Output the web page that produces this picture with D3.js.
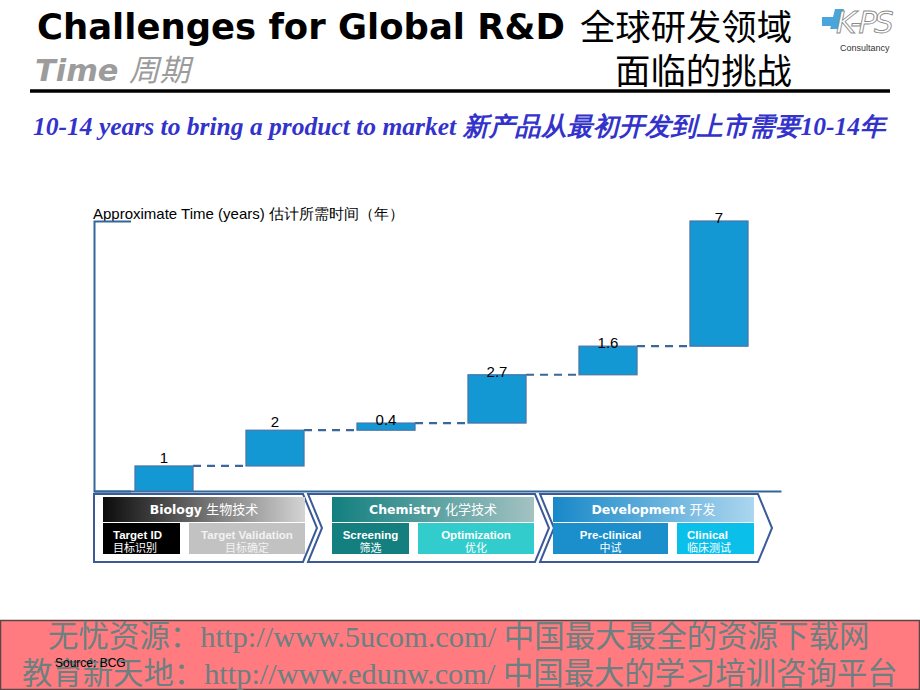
<!DOCTYPE html>
<html>
<head>
<meta charset="utf-8">
<script src="https://cdn.jsdelivr.net/npm/d3@7"></script>
<style>
  html, body { margin: 0; padding: 0; background: #fff; }
  svg { display: block; }
</style>
</head>
<body>
<svg id="chart" width="920" height="690"></svg>
<script>
// ---------------- DATA ----------------
const categories = ["Target ID", "Target Validation", "Screening", "Optimization", "Pre-clinical", "Clinical"];
const categoriesZh = ["目标识别", "目标确定", "筛选", "优化", "中试", "临床测试"];
const values = [1, 2, 0.4, 2.7, 1.6, 7];
const valueLabels = ["1", "2", "0.4", "2.7", "1.6", "7"];
const phases = ["Biology", "Chemistry", "Development"];
const phasesZh = ["生物技术", "化学技术", "开发"];
const titleEn = "Challenges for Global R&D";
const titleZh1 = "全球研发领域";
const titleZh2 = "面临的挑战";
const subTitleEn = "Time";
const subTitleZh = "周期";
const headline = "10-14 years to bring a product to market 新产品从最初开发到上市需要10-14年";
const axisTitle = "Approximate Time (years) 估计所需时间（年）";
const sourceText = "Source: BCG";
const footerLines = ["无忧资源：http://www.5ucom.com/ 中国最大最全的资源下载网",
                     "教育新天地：http://www.edunw.com/ 中国最大的学习培训咨询平台"];

// ---------------- HELPERS ----------------
const svg = d3.select("#chart");
svg.append("rect").attr("width", 920).attr("height", 690).attr("fill", "#fff");

function fitWidth(sel, target) {
  const w = sel.node().getComputedTextLength();
  const fs = parseFloat(sel.attr("font-size"));
  if (w > 0) sel.attr("font-size", fs * target / w);
  return sel;
}

// ---------------- HEADER ----------------
fitWidth(svg.append("text").attr("x", 37).attr("y", 39)
  .attr("font-family", "DejaVu Sans, Verdana, sans-serif").attr("font-weight", "bold")
  .attr("font-size", 30).attr("fill", "#000").text(titleEn), 528);

fitWidth(svg.append("text").attr("x", 792).attr("y", 40).attr("text-anchor", "end")
  .attr("font-family", "Noto Sans CJK SC").attr("font-weight", 400)
  .attr("font-size", 34).attr("fill", "#000").text(titleZh1), 212);

fitWidth(svg.append("text").attr("x", 792).attr("y", 84).attr("text-anchor", "end")
  .attr("font-family", "Noto Sans CJK SC").attr("font-weight", 400)
  .attr("font-size", 34).attr("fill", "#000").text(titleZh2), 177);

const timeT = svg.append("text").attr("x", 35).attr("y", 81)
  .attr("font-size", 26).attr("fill", "#9c9c9c").attr("font-weight", "bold").attr("font-style", "italic");
timeT.append("tspan").attr("font-family", "DejaVu Sans, Verdana, sans-serif").text(subTitleEn + " ");
timeT.append("tspan").attr("font-family", "Noto Sans CJK SC").attr("font-weight", 400).text(subTitleZh);
fitWidth(timeT, 155);

svg.append("line").attr("x1", 30).attr("x2", 890).attr("y1", 91).attr("y2", 91)
  .attr("stroke", "#000").attr("stroke-width", 3.5);

// logo
const logo = svg.append("g");
logo.append("path").attr("d", "M822,17 L833,17 L835,9 L844,9 L839,29 L830,29 L831,26 L822,26 Z")
  .attr("fill", "#4aa6da");
logo.append("text").attr("x", 836).attr("y", 33)
  .attr("font-family", "DejaVu Sans, sans-serif").attr("font-style", "italic")
  .attr("font-size", 31).attr("fill", "#fff").attr("stroke", "#8a8a8a").attr("stroke-width", 0.9)
  .attr("letter-spacing", -3).text("K-PS");
logo.append("text").attr("x", 840).attr("y", 51)
  .attr("font-family", "Liberation Sans, Arial, sans-serif")
  .attr("font-size", 9).attr("fill", "#333").text("Consultancy");

// headline
fitWidth(svg.append("text").attr("x", 33).attr("y", 135)
  .attr("font-family", "Liberation Serif, Times New Roman, serif")
  .attr("font-weight", "bold").attr("font-style", "italic")
  .attr("font-size", 23).attr("fill", "#3333cc").text(headline), 847);

// ---------------- CHART ----------------
const ends = d3.cumsum(values);
const starts = values.map((v, i) => ends[i] - v);

const x = d3.scaleBand().domain(categories).range([108.5, 774.5])
  .paddingInner(0.477).paddingOuter(0.2385);
const y = d3.scaleLinear().domain([-0.4, d3.sum(values)]).range([491, 221]);
const bw = x.bandwidth();

// axis title
svg.append("text").attr("x", 93).attr("y", 219)
  .attr("font-family", "Liberation Sans, Arial, sans-serif").attr("font-size", 15)
  .attr("fill", "#000").text(axisTitle);

// left axis (domain line only, outer ticks pointing right)
svg.append("g").attr("transform", "translate(94,0)")
  .call(d3.axisRight(y).tickValues([]).tickSizeOuter(37))
  .call(g => g.select(".domain").attr("stroke", "#33669a").attr("stroke-width", 2).attr("fill", "none"));

// bottom axis
const xAxisScale = d3.scaleLinear().domain([0, 1]).range([94, 781]);
svg.append("g").attr("transform", `translate(0,${y.range()[0]})`)
  .call(d3.axisBottom(xAxisScale).tickValues([]).tickSizeOuter(0))
  .call(g => g.select(".domain").attr("stroke", "#33669a").attr("stroke-width", 2));

// connectors
svg.append("g").selectAll("line").data(categories.slice(0, -1)).join("line")
  .attr("x1", d => x(d) + bw)
  .attr("x2", (d, i) => x(categories[i + 1]))
  .attr("y1", (d, i) => y(ends[i]))
  .attr("y2", (d, i) => y(ends[i]))
  .attr("stroke", "#3d6699").attr("stroke-width", 2.2).attr("stroke-dasharray", "8,6");

// bars
svg.append("g").selectAll("rect").data(categories).join("rect")
  .attr("x", d => x(d))
  .attr("width", bw)
  .attr("y", (d, i) => y(ends[i]))
  .attr("height", (d, i) => (starts[i] === 0 ? y(y.domain()[0]) : y(starts[i])) - y(ends[i]))
  .attr("fill", "#1498d4").attr("stroke", "#4a72a8").attr("stroke-width", 1.2);

// value labels
svg.append("g").selectAll("text").data(categories).join("text")
  .attr("x", d => x(d) + bw / 2)
  .attr("y", (d, i) => y(ends[i]) - (i < 2 ? 3 : -2))
  .attr("text-anchor", "middle")
  .attr("font-family", "Liberation Sans, Arial, sans-serif").attr("font-size", 15)
  .attr("fill", "#000").text((d, i) => valueLabels[i]);

// ---------------- PHASE PANEL ----------------
const defs = svg.append("defs");
const gradStops = [["#0c0c0c", "#d4d4d4"], ["#127f7f", "#a4c2c2"], ["#1888c8", "#abd6ee"]];
phases.forEach((p, i) => {
  const lg = defs.append("linearGradient").attr("id", "pg" + i);
  lg.append("stop").attr("offset", "0%").attr("stop-color", gradStops[i][0]);
  lg.append("stop").attr("offset", "100%").attr("stop-color", gradStops[i][1]);
});

const pTop = 494, pBot = 562, pMid = (pTop + pBot) / 2, depth = 14;
const panelGeom = [
  { l: 94, r: 303, notch: false, hx: 103, hw: 202, boxes: [[103, 77], [189, 116]] },
  { l: 308, r: 535, notch: true, hx: 332, hw: 202, boxes: [[332, 77], [418, 116]] },
  { l: 540, r: 758, notch: true, hx: 553, hw: 201, boxes: [[553, 115], [677, 77]] }
];
const boxFill = ["#000000", "#c2c2c2", "#137f7f", "#33cccc", "#1a8fcc", "#0ac0ea"];
const boxText = ["#fff", "#f2f2f2", "#fff", "#fff", "#fff", "#fff"];
const boxAnchor = ["start", "middle", "middle", "middle", "middle", "start"];

const pg = svg.append("g");
panelGeom.forEach((g, i) => {
  const pts = [[g.l, pTop], [g.r, pTop], [g.r + depth, pMid], [g.r, pBot], [g.l, pBot]];
  if (g.notch) pts.push([g.l + depth, pMid]);
  pg.append("path").attr("d", d3.line()(pts) + "Z")
    .attr("fill", "#fff").attr("stroke", "#3b5b98").attr("stroke-width", 2);
  pg.append("rect").attr("x", g.hx).attr("y", 497).attr("width", g.hw).attr("height", 25)
    .attr("fill", `url(#pg${i})`);
  const ht = pg.append("text").attr("x", g.hx + g.hw / 2).attr("y", 514).attr("text-anchor", "middle")
    .attr("fill", "#fff").attr("font-size", 13);
  ht.append("tspan").attr("font-family", "DejaVu Sans, Verdana, sans-serif").attr("font-weight", "bold")
    .attr("font-size", 12.5).text(phases[i] + " ");
  ht.append("tspan").attr("font-family", "Noto Sans CJK SC").text(phasesZh[i]);
  g.boxes.forEach((b, j) => {
    const k = i * 2 + j;
    pg.append("rect").attr("x", b[0]).attr("y", 523).attr("width", b[1]).attr("height", 31)
      .attr("fill", boxFill[k]);
    const tx = boxAnchor[k] === "start" ? b[0] + 10 : b[0] + b[1] / 2;
    pg.append("text").attr("x", tx).attr("y", 539).attr("text-anchor", boxAnchor[k])
      .attr("font-family", "Liberation Sans, Arial, sans-serif").attr("font-weight", "bold")
      .attr("font-size", 11.5).attr("fill", boxText[k]).text(categories[k]);
    pg.append("text").attr("x", tx).attr("y", 552).attr("text-anchor", boxAnchor[k])
      .attr("font-family", "Noto Sans CJK SC").attr("font-size", 11)
      .attr("fill", boxText[k]).text(categoriesZh[k]);
  });
});

// ---------------- FOOTER ----------------
svg.append("rect").attr("x", 0.5).attr("y", 620.5).attr("width", 919).attr("height", 69)
  .attr("fill", "#ff7b80").attr("stroke", "#5a4646").attr("stroke-width", 1.5);
const fx = [48, 22], fy = [647, 684], fw = [822, 876];
footerLines.forEach((t, i) => {
  fitWidth(svg.append("text").attr("x", fx[i]).attr("y", fy[i])
    .attr("font-family", "Liberation Serif, Times New Roman, Noto Sans CJK SC, serif")
    .attr("font-size", 28).attr("fill", "#6c8080").text(t), fw[i]);
});
svg.append("text").attr("x", 55).attr("y", 667)
  .attr("font-family", "Liberation Sans, Arial, sans-serif").attr("font-size", 12)
  .attr("fill", "#000").text(sourceText);
</script>
</body>
</html>
